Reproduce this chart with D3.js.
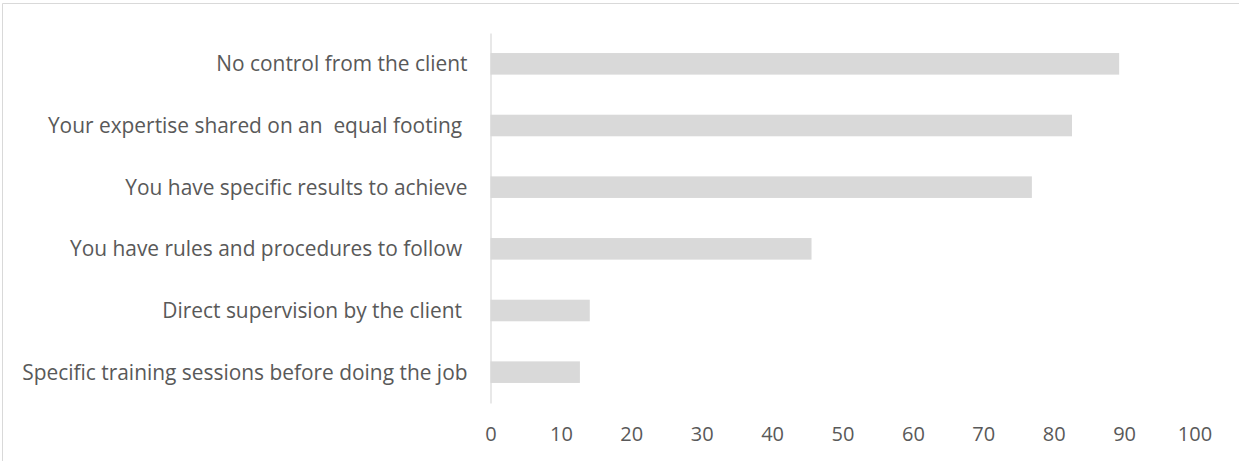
<!DOCTYPE html>
<html>
<head>
<meta charset="utf-8">
<script src="https://cdn.jsdelivr.net/npm/d3@7"></script>
<style>
  html, body { margin: 0; padding: 0; background: #fff; }
  svg text { font-family: "Open Sans", sans-serif; fill: #595959; white-space: pre; }
</style>
</head>
<body>
<svg id="chart" width="1239" height="461"></svg>
<script>
// Survey items, top to bottom
const categories = [
  "No control from the client",
  "Your expertise shared on an  equal footing ",
  "You have specific results to achieve",
  "You have rules and procedures to follow ",
  "Direct supervision by the client ",
  "Specific training sessions before doing the job"
];
// Share of respondents (%)
const values = [89.3, 82.6, 76.9, 45.6, 14.1, 12.7];
// Value axis ticks
const tickValues = [0, 10, 20, 30, 40, 50, 60, 70, 80, 90, 100];

const svg = d3.select("#chart");
const W = 1239, H = 461;

// Outer frame (only top and left edges fall inside the canvas)
svg.append("line").attr("x1", 2.5).attr("x2", W).attr("y1", 3.5).attr("y2", 3.5)
  .attr("stroke", "#d9d9d9").attr("stroke-width", 1);
svg.append("line").attr("x1", 2.5).attr("x2", 2.5).attr("y1", 3.5).attr("y2", H)
  .attr("stroke", "#d9d9d9").attr("stroke-width", 1);

const x = d3.scaleLinear().domain([0, 100]).range([490.5, 1194.5]);
const y = d3.scaleBand().domain(categories).range([33, 403])
  .paddingInner(0.65).paddingOuter(0.325);

// Bars
svg.append("g").selectAll("rect")
  .data(values)
  .join("rect")
  .attr("x", x(0))
  .attr("y", (d, i) => y(categories[i]))
  .attr("width", d => x(d) - x(0))
  .attr("height", y.bandwidth())
  .attr("fill", "#d9d9d9");

// Category axis
const yAxis = svg.append("g")
  .attr("transform", `translate(${x(0)},0)`)
  .call(d3.axisLeft(y).tickSize(0).tickPadding(23));
yAxis.select(".domain").attr("stroke", "#d9d9d9").attr("stroke-width", 1.2);
yAxis.selectAll("text")
  .style("font-size", "20.9px")
  .attr("dy", "0.36em");

// Value axis (labels only)
const xAxis = svg.append("g")
  .attr("transform", "translate(0,403)")
  .call(d3.axisBottom(x).tickValues(tickValues).tickSize(0).tickPadding(24));
xAxis.select(".domain").remove();
xAxis.selectAll("text")
  .style("font-size", "20px");
</script>
</body>
</html>
